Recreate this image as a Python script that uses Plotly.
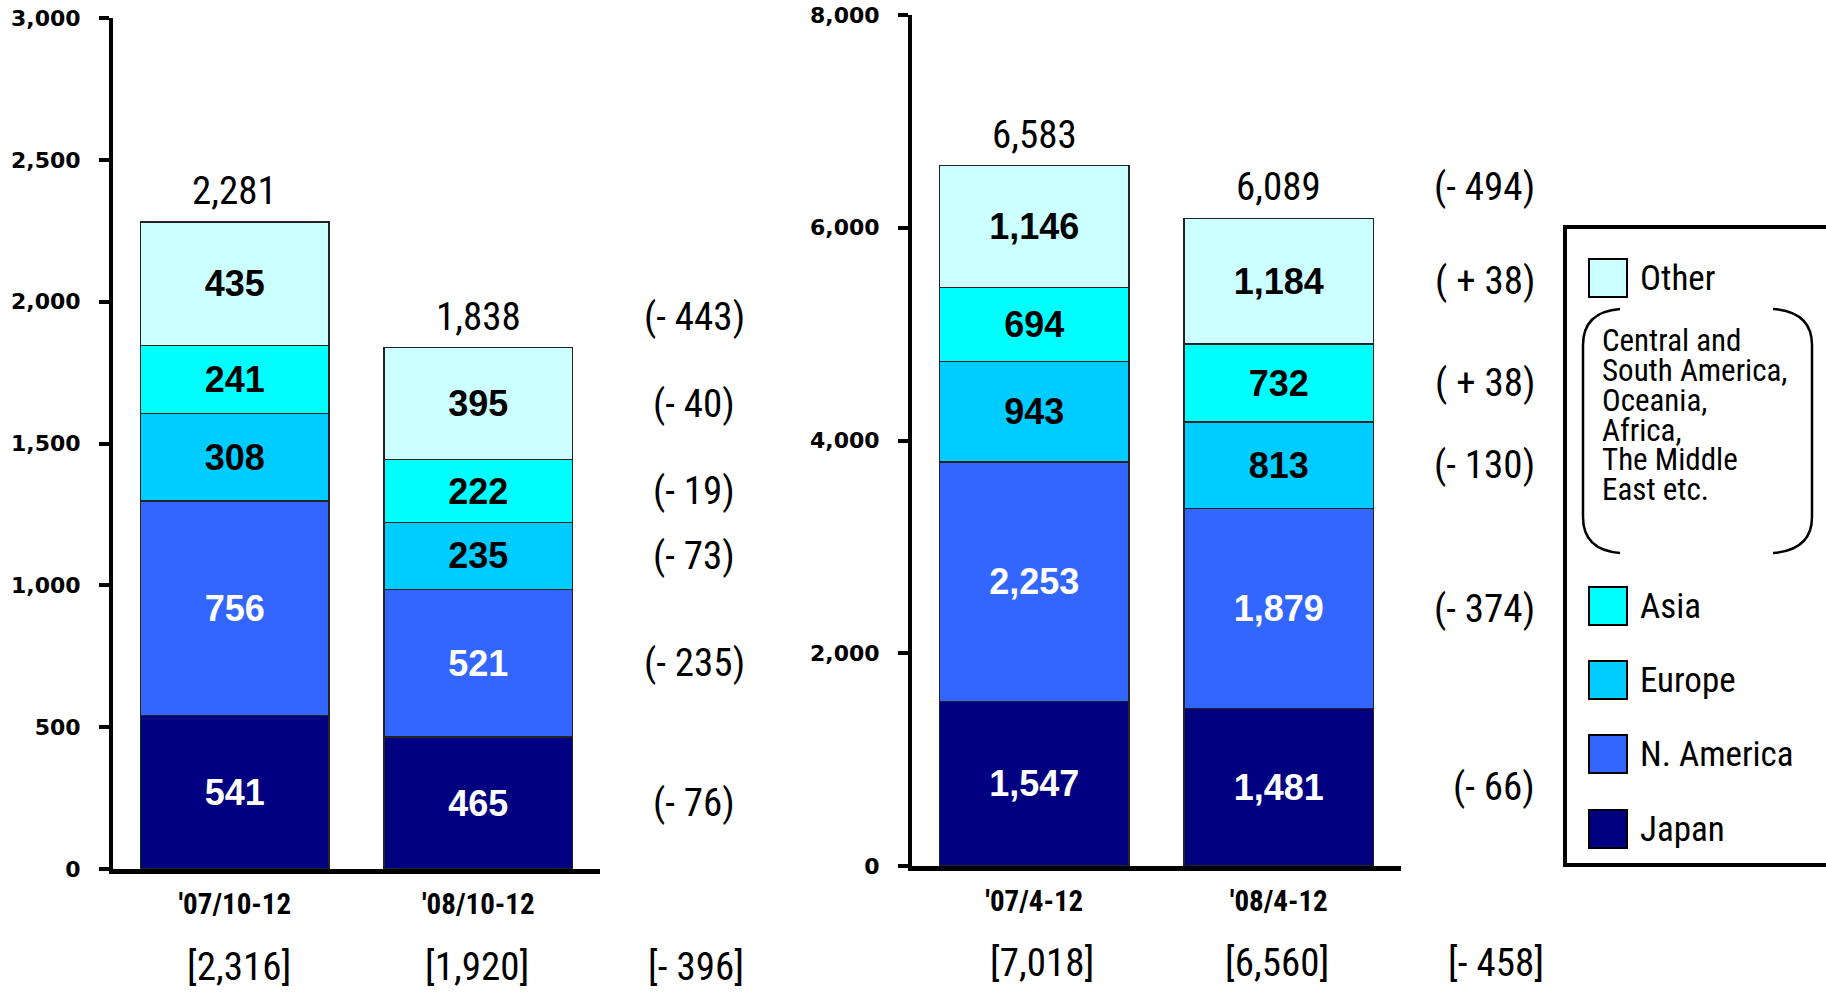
import plotly.graph_objects as go

# ---- data -------------------------------------------------------------
regions = ["Japan", "N. America", "Europe", "Asia", "Other"]
colors = ["#000080", "#3366FF", "#00CCFF", "#00FFFF", "#CCFFFF"]
label_colors = ["white", "white", "black", "black", "black"]

quarter_periods = ["'07/10-12", "'08/10-12"]
quarter_values = {
    "Japan": [541, 465],
    "N. America": [756, 521],
    "Europe": [308, 235],
    "Asia": [241, 222],
    "Other": [435, 395],
}
quarter_totals = [2281, 1838]
quarter_diffs = ["(- 76)", "(- 235)", "(- 73)", "(- 19)", "(- 40)"]
quarter_total_diff = "(- 443)"
quarter_brackets = ["[2,316]", "[1,920]", "[- 396]"]

ytd_periods = ["'07/4-12", "'08/4-12"]
ytd_values = {
    "Japan": [1547, 1481],
    "N. America": [2253, 1879],
    "Europe": [943, 813],
    "Asia": [694, 732],
    "Other": [1146, 1184],
}
ytd_totals = [6583, 6089]
ytd_diffs = ["(- 66)", "(- 374)", "(- 130)", "( + 38)", "( + 38)"]
ytd_total_diff = "(- 494)"
ytd_brackets = ["[7,018]", "[6,560]", "[- 458]"]

other_note = ["Central and", "South America,", "Oceania,", "Africa,", "The Middle", "East etc."]

# ---- page geometry ----------------------------------------------------
W, H = 1826, 992
NARROW = "Liberation Sans Narrow, Arial Narrow, Roboto Condensed, sans-serif"
BOLD = "Liberation Sans, Arial, sans-serif"
WIDE_BOLD = "DejaVu Sans, Verdana, sans-serif"


def px(x):
    return x / W


def py(y):
    return 1 - y / H


fig = go.Figure()

for i, reg in enumerate(regions):
    common = dict(
        name=reg,
        marker=dict(color=colors[i], line=dict(color="#222222", width=1.5)),
        texttemplate="%{y:,}",
        textposition="inside",
        insidetextanchor="middle",
        textangle=0,
        constraintext="none",
        textfont=dict(family=BOLD, size=36, color=label_colors[i], weight="bold"),
        showlegend=False,
        hoverinfo="skip",
    )
    fig.add_trace(go.Bar(x=quarter_periods, y=quarter_values[reg], xaxis="x", yaxis="y", **common))
    fig.add_trace(go.Bar(x=ytd_periods, y=ytd_values[reg], xaxis="x2", yaxis="y2", **common))

axis_common = dict(showline=True, linecolor="black", showgrid=False, zeroline=False)
tick_font = dict(family=WIDE_BOLD, size=22, color="black", weight="bold")
cat_font = dict(family=NARROW, size=29, color="black", weight="bold")

fig.update_layout(
    width=W,
    height=H,
    margin=dict(l=0, r=0, t=0, b=0, pad=0, autoexpand=False),
    paper_bgcolor="white",
    plot_bgcolor="white",
    barmode="stack",
    bargap=0.225,
    xaxis=dict(domain=[px(113), px(600)], anchor="y", type="category", automargin=False,
               linewidth=5, ticks="", tickfont=cat_font, ticklabelstandoff=5, **axis_common),
    yaxis=dict(domain=[py(869), py(18)], anchor="x", range=[0, 3000], dtick=500, automargin=False,
               tickformat=",", linewidth=4, ticks="outside", ticklen=10, tickwidth=4,
               tickcolor="black", tickfont=tick_font, ticklabelstandoff=14, **axis_common),
    xaxis2=dict(domain=[px(912), px(1401)], anchor="y2", type="category", automargin=False,
                linewidth=5, ticks="", tickfont=cat_font, ticklabelstandoff=5, **axis_common),
    yaxis2=dict(domain=[py(866), py(15)], anchor="x2", range=[0, 8000], dtick=2000, automargin=False,
                tickformat=",", linewidth=4, ticks="outside", ticklen=10, tickwidth=4,
                tickcolor="black", tickfont=tick_font, ticklabelstandoff=14, **axis_common),
)

ann = []
big = dict(family=NARROW, size=39, color="black")

# totals above the bars
for xr, yr, cats, tots in [("x", "y", quarter_periods, quarter_totals),
                           ("x2", "y2", ytd_periods, ytd_totals)]:
    for c, t in zip(cats, tots):
        ann.append(dict(x=c, y=t, xref=xr, yref=yr, text=f"{t:,}", showarrow=False,
                        xanchor="center", yanchor="bottom", yshift=6, font=big))


def seg_mids(values, cat_idx):
    mids, base = [], 0
    for reg in regions:
        v = values[reg][cat_idx]
        mids.append(base + v / 2)
        base += v
    return mids


# year-on-year differences next to the second bar
for y, t in zip(seg_mids(quarter_values, 1), quarter_diffs):
    ann.append(dict(x=px(694), y=y, xref="paper", yref="y", text=t, showarrow=False,
                    xanchor="center", yanchor="middle", font=big))
ann.append(dict(x=px(694), y=quarter_totals[1], xref="paper", yref="y", text=quarter_total_diff,
                showarrow=False, xanchor="center", yanchor="bottom", yshift=6, font=big))

for y, t in zip(seg_mids(ytd_values, 1), ytd_diffs):
    ann.append(dict(x=px(1537), y=y, xref="paper", yref="y2", text=t, showarrow=False,
                    xanchor="right", yanchor="middle", font=big))
ann.append(dict(x=px(1537), y=ytd_totals[1], xref="paper", yref="y2", text=ytd_total_diff,
                showarrow=False, xanchor="right", yanchor="bottom", yshift=6, font=big))

# bracketed figures under the category labels
for xpos, t in zip([239, 477, 696], quarter_brackets):
    ann.append(dict(x=px(xpos), y=py(967), xref="paper", yref="paper", text=t,
                    showarrow=False, xanchor="center", yanchor="middle", font=big))
for xpos, t in zip([1042, 1277, 1496], ytd_brackets):
    ann.append(dict(x=px(xpos), y=py(963), xref="paper", yref="paper", text=t,
                    showarrow=False, xanchor="center", yanchor="middle", font=big))

# ---- hand-built legend ------------------------------------------------
shapes = [dict(type="rect", xref="paper", yref="paper",
               x0=px(1565), x1=px(1835), y0=py(865), y1=py(227),
               line=dict(color="black", width=4), fillcolor="white", layer="above")]

legend_rows = {"Other": 278, "Asia": 606, "Europe": 680, "N. America": 754, "Japan": 829}
leg_font = dict(family=NARROW, size=35, color="black")
for i, reg in enumerate(regions):
    cy = legend_rows[reg]
    shapes.append(dict(type="rect", xref="paper", yref="paper",
                       x0=px(1589), x1=px(1627), y0=py(cy + 19), y1=py(cy - 19),
                       line=dict(color="black", width=2), fillcolor=colors[i], layer="above"))
    ann.append(dict(x=px(1638), y=py(cy), xref="paper", yref="paper", text=reg,
                    showarrow=False, xanchor="left", yanchor="middle", font=leg_font))

note_font = dict(family=NARROW, size=31, color="black")
for k, line in enumerate(other_note):
    ann.append(dict(x=px(1600), y=py(340 + 30 * k), xref="paper", yref="paper", text=line,
                    showarrow=False, xanchor="left", yanchor="middle", font=note_font))


def paren_path(x_tip, x_edge, y_top, y_bot, r):
    pts = [(x_tip, y_top), (x_edge, y_top + 3), (x_edge, y_top + r),
           (x_edge, y_bot - r), (x_edge, y_bot - 3), (x_tip, y_bot)]
    p = [(px(a), py(b)) for a, b in pts]
    return (f"M {p[0][0]},{p[0][1]} Q {p[1][0]},{p[1][1]} {p[2][0]},{p[2][1]} "
            f"L {p[3][0]},{p[3][1]} Q {p[4][0]},{p[4][1]} {p[5][0]},{p[5][1]}")


for x_tip, x_edge in [(1620, 1583), (1773, 1812)]:
    shapes.append(dict(type="path", xref="paper", yref="paper",
                       path=paren_path(x_tip, x_edge, 309, 553, 36),
                       line=dict(color="black", width=2.5), layer="above"))

fig.update_layout(annotations=ann, shapes=shapes)

fig.write_html("out.html")
